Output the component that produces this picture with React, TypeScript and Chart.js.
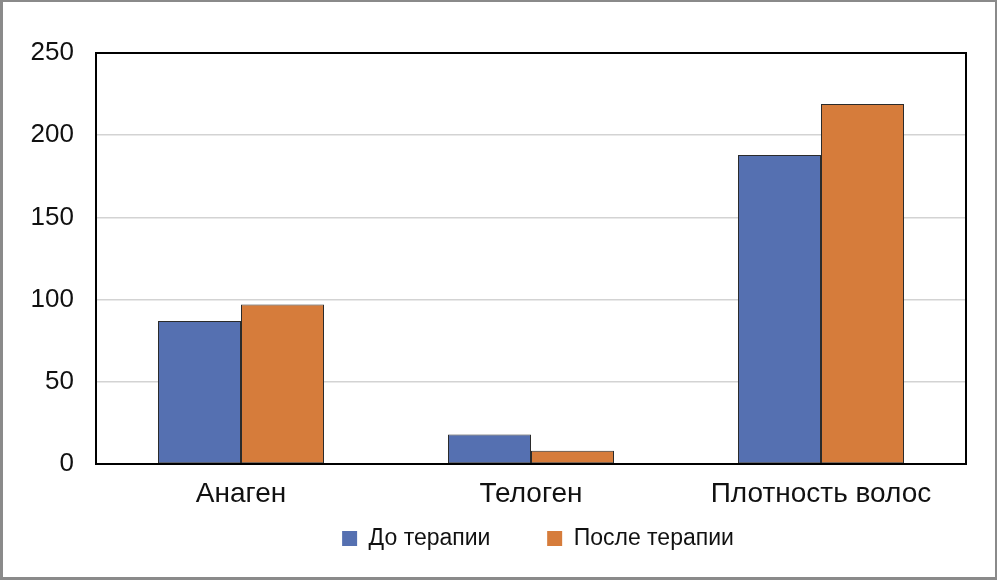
import React, { useEffect, useRef } from "react";
import { Chart, registerables } from "chart.js";

Chart.register(...registerables);

const categories = ["Анаген", "Телоген", "Плотность волос"];
const seriesNames = ["До терапии", "После терапии"];
const beforeValues = [87, 18, 188];
const afterValues = [97, 8, 219];
const yTicks = [0, 50, 100, 150, 200, 250];

const FONT = "'Liberation Sans', Arial, Helvetica, sans-serif";

const framePlugin = {
  id: "plotFrame",
  afterLayout(chart: any) {
    if (chart.legend) {
      chart.legend.left += 7;
      chart.legend.right += 7;
    }
  },
  afterDraw(chart: any) {
    const { ctx, chartArea } = chart;
    ctx.save();
    ctx.strokeStyle = "#000";
    ctx.lineWidth = 2;
    ctx.strokeRect(chartArea.left, chartArea.top, chartArea.right - chartArea.left, chartArea.bottom - chartArea.top);
    ctx.restore();
  },
};

export default function App() {
  const ref = useRef<HTMLCanvasElement | null>(null);

  useEffect(() => {
    if (!ref.current) return;
    const chart = new Chart(ref.current, {
      type: "bar",
      data: {
        labels: categories,
        datasets: [
          {
            label: seriesNames[0],
            data: beforeValues,
            backgroundColor: "#5570b1",
            borderColor: "#2b2b2b",
            borderWidth: 1,
            borderSkipped: false,
            categoryPercentage: 0.5724,
            barPercentage: 1,
          },
          {
            label: seriesNames[1],
            data: afterValues,
            backgroundColor: "#d67c3b",
            borderColor: "#2b2b2b",
            borderWidth: 1,
            borderSkipped: false,
            categoryPercentage: 0.5724,
            barPercentage: 1,
          },
        ],
      },
      options: {
        responsive: false,
        maintainAspectRatio: false,
        animation: false,
        devicePixelRatio: 1,
        layout: { padding: { top: 51, right: 29, left: 0, bottom: 17 } },
        scales: {
          x: {
            grid: { display: false, drawTicks: false },
            border: { display: false },
            ticks: {
              color: "#111",
              padding: 13,
              maxRotation: 0,
              autoSkip: false,
              font: { family: FONT, size: 28 },
            },
            afterFit(scale: any) {
              scale.height = 51;
            },
          },
          y: {
            min: 0,
            max: 250,
            afterBuildTicks(scale: any) {
              scale.ticks = yTicks.map((v) => ({ value: v }));
            },
            grid: { color: "#d3d3d3", lineWidth: 1.5, drawTicks: false },
            border: { display: false },
            ticks: {
              color: "#111",
              padding: 22,
              font: { family: FONT, size: 26 },
            },
            afterFit(scale: any) {
              scale.width = 93;
            },
          },
        },
        plugins: {
          legend: {
            position: "bottom",
            fullSize: false,
            labels: {
              boxWidth: 15,
              boxHeight: 15,
              padding: 12,
              color: "#111",
              font: { family: FONT, size: 23 },
              generateLabels(ch: any) {
                const items = Chart.defaults.plugins.legend.labels.generateLabels(ch);
                return items.map((it: any, i: number) => ({
                  ...it,
                  text: i === 0 ? it.text + "       " : it.text,
                  lineWidth: 0,
                  strokeStyle: "rgba(0,0,0,0)",
                }));
              },
            },
          },
          tooltip: { enabled: false },
        },
      },
      plugins: [framePlugin],
    });
    return () => chart.destroy();
  }, []);

  return (
    <div
      style={{
        position: "fixed",
        top: 0,
        left: 0,
        width: 997,
        height: 580,
        boxSizing: "border-box",
        borderStyle: "solid",
        borderColor: "#8a8a8a",
        borderWidth: "2px 2px 3px 3px",
        background: "#fff",
      }}
    >
      <canvas ref={ref} width={992} height={575} style={{ display: "block", width: 992, height: 575 }} />
    </div>
  );
}
